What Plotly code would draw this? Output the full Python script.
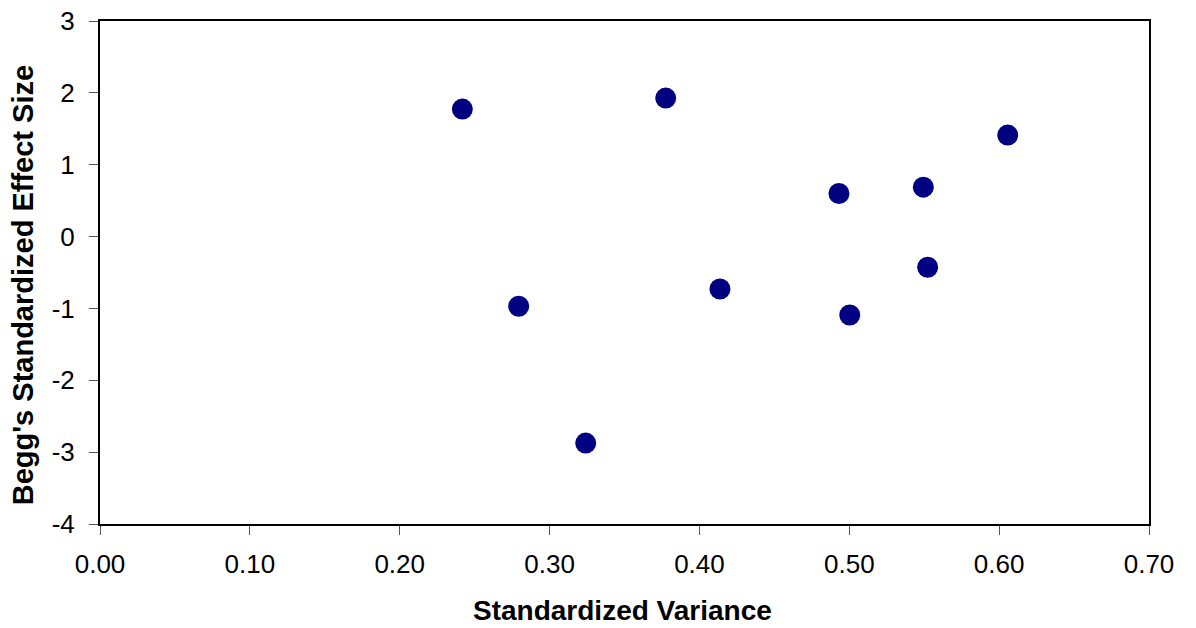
import plotly.graph_objects as go

std_variance = [0.2418, 0.3775, 0.2794, 0.4137, 0.3241, 0.6057, 0.4931, 0.5494, 0.5523, 0.5003]
std_effect = [1.774, 1.927, -0.970, -0.729, -2.874, 1.412, 0.600, 0.688, -0.427, -1.091]

x_ticks = [0.0, 0.1, 0.2, 0.3, 0.4, 0.5, 0.6, 0.7]
x_tick_labels = ["0.00", "0.10", "0.20", "0.30", "0.40", "0.50", "0.60", "0.70"]
y_ticks = [-4, -3, -2, -1, 0, 1, 2, 3]
y_tick_labels = ["-4", "-3", "-2", "-1", "0", "1", "2", "3"]

x_title = "Standardized Variance"
y_title = "Begg's Standardized Effect Size"

fig = go.Figure()
fig.add_trace(go.Scatter(
    x=std_variance, y=std_effect, mode="markers",
    marker=dict(size=21, color="#000080", line=dict(width=0)),
    showlegend=False,
))

font_family = "Liberation Sans, Arial, sans-serif"
axis_common = dict(
    showgrid=False, zeroline=False, showline=True, linecolor="black", linewidth=2,
    mirror=True, ticks="outside", ticklen=9, tickcolor="#555", tickwidth=1,
    tickfont=dict(size=26), automargin=False,
)
fig.update_layout(
    width=1196, height=628,
    margin=dict(l=100, r=47, t=21, b=104, autoexpand=False),
    paper_bgcolor="white", plot_bgcolor="white",
    font=dict(family=font_family, size=26, color="black"),
    xaxis=dict(range=[0, 0.7], tickmode="array", tickvals=x_ticks, ticktext=x_tick_labels,
               ticklabelstandoff=7, **axis_common),
    yaxis=dict(range=[-4, 3], tickmode="array", tickvals=y_ticks, ticktext=y_tick_labels,
               ticklabelstandoff=9, **axis_common),
    annotations=[
        dict(text="<b>" + x_title + "</b>", xref="paper", yref="paper", x=0.498, y=-0.171,
             xanchor="center", yanchor="middle", showarrow=False, font=dict(size=28)),
        dict(text="<b>" + y_title + "</b>", xref="paper", yref="paper", x=-0.0734, y=0.4746,
             xanchor="center", yanchor="middle", textangle=-90, showarrow=False, font=dict(size=29)),
    ],
)

fig.write_html("out.html")
